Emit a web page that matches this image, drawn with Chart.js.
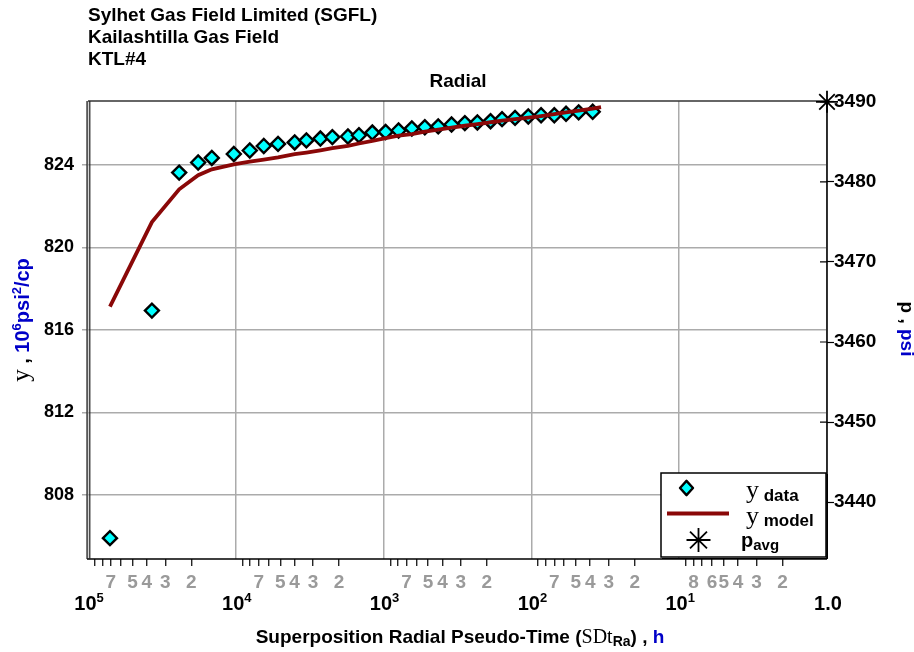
<!DOCTYPE html>
<html><head><meta charset="utf-8">
<script src="https://cdn.jsdelivr.net/npm/chart.js@4/dist/chart.umd.min.js"></script>
<style>html,body{margin:0;padding:0;background:#fff;} canvas{display:block;}</style>
</head><body>
<canvas id="c" width="914" height="652"></canvas>
<script>
// ---- data ----
const dataTimes = [71030, 36950, 24160, 17975, 14530, 10316, 8043, 6468, 5178, 3994, 3329, 2678, 2222, 1743, 1468,
  1192, 969, 792, 644, 526, 427, 347, 282, 232, 189, 158, 129, 105, 86, 70, 58.3, 47.9, 38.5];
const yData = [805.91, 816.94, 823.63, 824.12, 824.34, 824.53, 824.70, 824.92, 825.02, 825.09, 825.19, 825.28, 825.35, 825.38, 825.44,
  825.57, 825.60, 825.67, 825.77, 825.83, 825.87, 825.96, 826.03, 826.06, 826.12, 826.22, 826.28, 826.35, 826.41, 826.41, 826.48, 826.55, 826.58];
const modelTimes = [71030, 36950, 24160, 17975, 14530, 10316, 8043, 6468, 5178, 3994, 3329, 2678, 2222, 1743, 1468,
  1192, 969, 792, 644, 526, 427, 347, 282, 232, 189, 158, 129, 105, 86, 70, 58.3, 47.9, 38.5, 33.8];
const yModel = [817.13, 821.23, 822.82, 823.50, 823.79, 824.03, 824.16, 824.26, 824.37, 824.52, 824.60, 824.71, 824.81, 824.93, 825.04,
  825.17, 825.30, 825.42, 825.49, 825.61, 825.71, 825.81, 825.90, 825.98, 826.07, 826.15, 826.22, 826.29, 826.37, 826.46, 826.55, 826.63, 826.73, 826.80];
const pAvgTimes = [1.0];
const pAvgValues = [3490];

const leftTicks = [808, 812, 816, 820, 824];
const rightTicks = [3440, 3450, 3460, 3470, 3480, 3490];
const decades = [100000, 10000, 1000, 100, 10, 1];
const decadeBase = ['10', '10', '10', '10', '10', '1.0'];
const decadeExp = ['5', '4', '3', '2', '1', ''];
const minorMultipliers = [9, 8, 7, 6, 5, 4, 3, 2];
const minorLabelsUpper = ['7', '5', '4', '3', '2'];   // decades 10..1e5
const minorLabelsLowest = ['8', '6', '5', '4', '3', '2']; // decade 1..10

const headerLines = ['Sylhet Gas Field Limited (SGFL)', 'Kailashtilla Gas Field', 'KTL#4'];
const chartTitle = 'Radial';

// ---- build tick tables ----
const xTickValues = [];
const xTickLabel = {};
decades.forEach(d => { xTickValues.push(d); xTickLabel[String(d)] = ''; });
[10000, 1000, 100, 10, 1].forEach(b => {
  minorMultipliers.forEach(m => {
    const v = m * b;
    xTickValues.push(v);
    const set = b === 1 ? minorLabelsLowest : minorLabelsUpper;
    xTickLabel[String(v)] = set.includes(String(m)) ? String(m) : '';
  });
});
xTickValues.sort((a, b) => a - b);
const isDecade = v => Math.abs(Math.log10(v) - Math.round(Math.log10(v))) < 1e-9;

const SANS = '"Liberation Sans", Arial, Helvetica, sans-serif';
const SERIF = '"Liberation Serif", "Times New Roman", serif';
const BLUE = '#0000c8';
const RED = '#8a0808';
const CYAN = '#00ffff';
const GRID = '#ababab';

function drawSegments(ctx, segs, x, y, align) {
  let total = 0;
  segs.forEach(s => { ctx.font = s.font; s.w = ctx.measureText(s.t).width; total += s.w; });
  let cx = align === 'center' ? x - total / 2 : x;
  ctx.textBaseline = 'alphabetic';
  ctx.textAlign = 'left';
  segs.forEach(s => {
    ctx.font = s.font; ctx.fillStyle = s.color || '#000';
    ctx.fillText(s.t, cx, y + (s.dy || 0));
    cx += s.w;
  });
}

function diamond(ctx, x, y, r) {
  ctx.beginPath();
  ctx.moveTo(x - r, y); ctx.lineTo(x, y - r * 1.1); ctx.lineTo(x + r, y); ctx.lineTo(x, y + r * 1.1); ctx.closePath();
  ctx.fillStyle = CYAN; ctx.fill();
  ctx.lineWidth = 2.4; ctx.lineJoin = 'round'; ctx.strokeStyle = '#000'; ctx.stroke();
}
function star(ctx, x, y, r) {
  ctx.beginPath();
  for (let i = 0; i < 4; i++) {
    const a = i * Math.PI / 4;
    ctx.moveTo(x - r * Math.cos(a), y - r * Math.sin(a));
    ctx.lineTo(x + r * Math.cos(a), y + r * Math.sin(a));
  }
  ctx.lineWidth = 1.8; ctx.strokeStyle = '#000'; ctx.stroke();
}

const framePlugin = {
  id: 'frame',
  beforeDatasetsDraw(chart) {
    const { ctx, chartArea: a } = chart;
    ctx.save();
    ctx.strokeStyle = '#333'; ctx.lineWidth = 1.5;
    ctx.beginPath();
    ctx.moveTo(a.left, a.top); ctx.lineTo(a.right, a.top);
    ctx.stroke();
    ctx.strokeStyle = '#000'; ctx.lineWidth = 1.5;
    ctx.beginPath();
    ctx.moveTo(a.right, a.top); ctx.lineTo(a.right, a.bottom);
    ctx.moveTo(a.left - 1, a.bottom); ctx.lineTo(a.right, a.bottom);
    ctx.stroke();
    ctx.lineWidth = 1.2; ctx.strokeStyle = '#222';
    ctx.beginPath();
    ctx.moveTo(a.left - 1, a.top); ctx.lineTo(a.left - 1, a.bottom);
    ctx.moveTo(a.left + 1.8, a.top); ctx.lineTo(a.left + 1.8, a.bottom);
    ctx.stroke();
    // inner part of the right-axis ticks
    const y2 = chart.scales.y2;
    ctx.strokeStyle = '#000'; ctx.lineWidth = 1.2;
    ctx.beginPath();
    rightTicks.forEach(v => { const py = y2.getPixelForValue(v); ctx.moveTo(a.right - 7, py); ctx.lineTo(a.right, py); });
    ctx.stroke();
    ctx.restore();
  },
  afterDraw(chart) {
    const { ctx } = chart;
    const xs = chart.scales.x;
    ctx.save();
    // header
    ctx.font = 'bold 19px ' + SANS; ctx.fillStyle = '#000'; ctx.textAlign = 'left'; ctx.textBaseline = 'alphabetic';
    headerLines.forEach((t, i) => ctx.fillText(t, 88, 21 + i * 22));
    ctx.textAlign = 'center';
    ctx.fillText(chartTitle, 458, 87);

    // decade labels
    decades.forEach((d, i) => {
      const px = xs.getPixelForValue(d);
      const segs = [{ t: decadeBase[i], font: 'bold 20px ' + SANS }];
      if (decadeExp[i]) segs.push({ t: decadeExp[i], font: 'bold 13px ' + SANS, dy: -8 });
      drawSegments(ctx, segs, px + 1, 610, 'center');
    });

    // x axis title
    drawSegments(ctx, [
      { t: 'Superposition Radial Pseudo-Time (', font: 'bold 19px ' + SANS },
      { t: 'SDt', font: '20px ' + SERIF },
      { t: 'Ra', font: 'bold 14px ' + SANS, dy: 3 },
      { t: ') , ', font: 'bold 19px ' + SANS },
      { t: 'h', font: 'bold 19px ' + SANS, color: BLUE }
    ], 460, 643, 'center');

    // left axis title (rotated)
    ctx.save();
    ctx.translate(29, 320); ctx.rotate(-Math.PI / 2);
    drawSegments(ctx, [
      { t: 'y', font: '25px ' + SERIF },
      { t: ' , ', font: 'bold 20px ' + SANS },
      { t: '10', font: 'bold 20px ' + SANS, color: BLUE },
      { t: '6', font: 'bold 13px ' + SANS, color: BLUE, dy: -8 },
      { t: 'psi', font: 'bold 20px ' + SANS, color: BLUE },
      { t: '2', font: 'bold 13px ' + SANS, color: BLUE, dy: -8 },
      { t: '/cp', font: 'bold 20px ' + SANS, color: BLUE }
    ], 0, 0, 'center');
    ctx.restore();

    // right axis title (rotated)
    ctx.save();
    ctx.translate(901, 329); ctx.rotate(Math.PI / 2);
    drawSegments(ctx, [
      { t: 'p', font: 'bold 19px ' + SANS },
      { t: ' , ', font: 'bold 19px ' + SANS },
      { t: 'psi', font: 'bold 19px ' + SANS, color: BLUE }
    ], 0, 0, 'center');
    ctx.restore();

    // legend
    ctx.fillStyle = '#fff';
    ctx.fillRect(661, 473, 165, 84);
    ctx.strokeStyle = '#000'; ctx.lineWidth = 1.5;
    ctx.strokeRect(661, 473, 165, 84);
    ctx.lineWidth = 1;
    ctx.beginPath(); ctx.moveTo(827.5, 474); ctx.lineTo(827.5, 558.5); ctx.lineTo(662, 558.5); ctx.stroke();
    diamond(ctx, 686.5, 488, 6.5);
    drawSegments(ctx, [{ t: 'y', font: '26px ' + SERIF }, { t: ' data', font: 'bold 17px ' + SANS, dy: 3 }], 746, 498, 'left');
    ctx.strokeStyle = RED; ctx.lineWidth = 3.8; ctx.lineCap = 'butt';
    ctx.beginPath(); ctx.moveTo(667, 513.5); ctx.lineTo(729, 513.5); ctx.stroke();
    drawSegments(ctx, [{ t: 'y', font: '26px ' + SERIF }, { t: ' model', font: 'bold 17px ' + SANS, dy: 2 }], 746, 524, 'left');
    star(ctx, 698.5, 540, 12);
    drawSegments(ctx, [{ t: 'p', font: 'bold 20px ' + SANS }, { t: 'avg', font: 'bold 15px ' + SANS, dy: 3 }], 741, 547, 'left');
    ctx.restore();
  }
};

new Chart(document.getElementById('c'), {
  type: 'scatter',
  data: {
    datasets: [
      {
        label: 'y model',
        data: modelTimes.map((t, i) => ({ x: t, y: yModel[i] })),
        yAxisID: 'y', showLine: true, borderColor: RED, borderWidth: 3.8,
        pointRadius: 0, tension: 0, order: 0, fill: false
      },
      {
        label: 'y data',
        data: dataTimes.map((t, i) => ({ x: t, y: yData[i] })),
        yAxisID: 'y', showLine: false, pointStyle: 'rectRot', pointRadius: 7,
        backgroundColor: CYAN, borderColor: '#000', borderWidth: 2.4, order: 1
      },
      {
        label: 'p avg',
        data: pAvgTimes.map((t, i) => ({ x: t, y: pAvgValues[i] })),
        yAxisID: 'y2', showLine: false, pointStyle: 'star', pointRadius: 11,
        borderColor: '#000', borderWidth: 1.8, order: 0, clip: false
      }
    ]
  },
  options: {
    responsive: false, animation: false, events: [],
    layout: { padding: { top: 101, left: 0, right: 0, bottom: 0 } },
    plugins: { legend: { display: false }, tooltip: { enabled: false }, title: { display: false } },
    scales: {
      x: {
        type: 'logarithmic', reverse: true, min: 1, max: 100000, position: 'bottom',
        afterBuildTicks: s => { s.ticks = xTickValues.map(v => ({ value: v, major: isDecade(v) })); },
        afterFit: s => { s.height = 93; },
        border: { display: false },
        grid: {
          drawOnChartArea: true, drawTicks: true, tickLength: 7,
          color: c => (c.tick && isDecade(c.tick.value)) ? GRID : 'rgba(0,0,0,0)',
          tickColor: c => (c.tick && isDecade(c.tick.value)) ? 'rgba(0,0,0,0)' : '#000',
          lineWidth: 1.5, tickWidth: 1.2
        },
        ticks: {
          autoSkip: false, maxRotation: 0, minRotation: 0, padding: 5,
          color: '#9a9a9a', font: { family: SANS, size: 19, weight: 'bold' },
          callback: v => xTickLabel[String(v)] !== undefined ? xTickLabel[String(v)] : ''
        }
      },
      y: {
        type: 'linear', position: 'left', min: 804.9, max: 827.1,
        afterBuildTicks: s => { s.ticks = leftTicks.map(v => ({ value: v })); },
        afterFit: s => { s.width = 88; },
        border: { display: false },
        grid: { color: GRID, lineWidth: 1.5, tickLength: 6, tickColor: GRID, tickWidth: 1.5 },
        ticks: { color: '#000', padding: 8, font: { family: SANS, size: 18, weight: 'bold' }, callback: v => String(v) }
      },
      y2: {
        type: 'linear', position: 'right', min: 3432.9, max: 3490.1,
        afterBuildTicks: s => { s.ticks = rightTicks.map(v => ({ value: v })); },
        afterFit: s => { s.width = 87; },
        border: { display: false },
        grid: { drawOnChartArea: false, tickLength: 7, tickColor: '#000', tickWidth: 1.2 },
        ticks: { color: '#000', padding: 0, font: { family: SANS, size: 19, weight: 'bold' }, callback: v => String(v) }
      }
    }
  },
  plugins: [framePlugin]
});
</script>
</body></html>
